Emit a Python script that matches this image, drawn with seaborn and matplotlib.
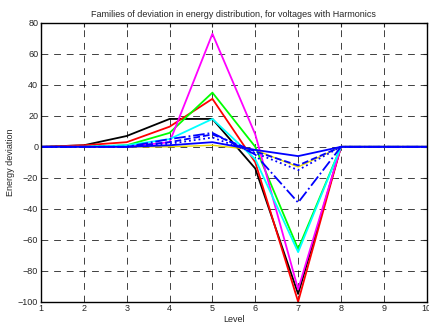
import matplotlib
matplotlib.use("Agg")
import matplotlib.pyplot as plt
import seaborn as sns
import pandas as pd

levels = [1, 2, 3, 4, 5, 6, 7, 8, 9, 10]
black = [0, 1, 7, 18, 18, -14, -95, 0, 0, 0]
red = [0, 1, 3, 13, 31, -10, -100, 0, 0, 0]
green = [0, 0, 1, 9, 35, 0, -66, 0, 0, 0]
magenta = [0, 0, 0, 3, 73, 8, -92, 0, 0, 0]
cyan = [0, 0, 1, 5, 18, -8, -68, 0, 0, 0]
blue_solid = [0, 0, 0, 1, 3, -2, -6, 0, 0, 0]
blue_dashed = [0, 0, 0, 3, 8, -3, -12, 0, 0, 0]
blue_dotted = [0, 0, 0, 2, 6, -4, -15, 0, 0, 0]
blue_dashdot = [0, 0, 0, 5, 9, -5, -36, 0, 0, 0]
yellow = [0, 0, 0, 0, 1, -2, -13, 0, 0, 0]

xticks = [1, 2, 3, 4, 5, 6, 7, 8, 9, 10]
yticks = [-100, -80, -60, -40, -20, 0, 20, 40, 60, 80]

sns.set_style("white")
plt.rcParams['font.family'] = ['Liberation Sans', 'DejaVu Sans']

fig = plt.figure(figsize=(4.29, 3.23), dpi=100)
ax = fig.add_axes([0.0956, 0.066, 0.899, 0.863])

series = [
    (black, 'black', '-', 1.3),
    (red, 'red', '-', 1.3),
    (green, '#00ff00', '-', 1.3),
    (magenta, 'magenta', '-', 1.3),
    (cyan, 'cyan', '-', 1.3),
    (yellow, '#e8d800', '-', 1.0),
    (blue_dashdot, 'blue', '-.', 1.3),
    (blue_dotted, 'blue', ':', 1.3),
    (blue_dashed, 'blue', '--', 1.3),
    (blue_solid, 'blue', '-', 1.3),
]
for vals, col, ls, lw in series:
    df = pd.DataFrame({'Level': levels, 'dev': vals})
    sns.lineplot(data=df, x='Level', y='dev', color=col, linestyle=ls,
                 linewidth=lw, ax=ax, legend=False)

ax.set_xlim(1, 10)
ax.set_ylim(-100, 80)
ax.set_xticks(xticks)
ax.set_yticks(yticks)
ax.grid(True, color='black', linestyle=(0, (7, 6)), linewidth=0.7, alpha=0.75)
ax.tick_params(direction='in', length=3, labelsize=6.5, top=True, right=True,
               labeltop=False, labelright=False, pad=2, width=0.8)
for s in ax.spines.values():
    s.set_color('black')
    s.set_linewidth(1.0)
ax.set_title('Families of deviation in energy distribution, for voltages with Harmonics',
             fontsize=6.5, pad=4)
ax.set_xlabel('Level', fontsize=6.5, labelpad=1)
ax.set_ylabel('Energy deviation', fontsize=6.5, labelpad=2)

fig.savefig('out.png', dpi=100)
